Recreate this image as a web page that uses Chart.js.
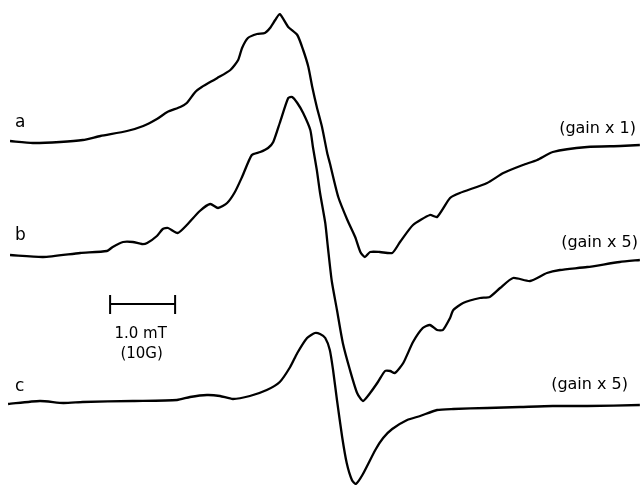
<!DOCTYPE html>
<html lang="en">
<head>
<meta charset="UTF-8">
<title>EPR spectra</title>
<script src="https://cdn.jsdelivr.net/npm/chart.js"></script>
<style>
    html, body { margin: 0; padding: 0; background: #fff; }
    #wrap { width: 640px; height: 485px; }
</style>
</head>
<body>
<div id="wrap"><canvas id="epr" width="640" height="485"></canvas></div>
<script>
    // field in gauss (G) from left edge, signal in arbitrary units relative to each baseline
    const fieldA = [0, 3.5, 7.7, 11.2, 13.9, 18.0, 20.5, 22.6, 24.2, 26.2, 27.2, 28.5, 29.5, 31.9, 33.9, 35.1, 35.7, 36.6, 38.0, 39.2, 40.0, 40.8, 41.5, 42.8, 44.2, 45.1, 45.9, 46.5, 47.2, 48.0, 48.8, 49.2, 50.5, 51.9, 53.1, 53.9, 54.6, 55.4, 56.9, 58.8, 60.0, 62.0, 64.6, 65.7, 67.7, 69.2, 73.4, 75.9, 78.9, 81.1, 83.5, 88.8, 93.9, 96.9];
    const signalA = [0, -2, -1, 1, 5, 10, 15, 22, 29, 34, 38, 49, 54, 63, 71, 81, 93, 103, 107, 108, 113, 121, 127, 114, 106, 91, 74, 54, 34, 14, -12, -22, -56, -79, -96, -111, -116, -111, -111, -112, -101, -84, -74, -76, -57, -52, -42, -32, -24, -19, -11, -6, -5, -4];

    const fieldB = [0, 5.1, 10.8, 14.9, 15.8, 17.4, 18.9, 20.3, 21.1, 22.6, 23.5, 24.3, 25.8, 27.2, 29.2, 30.8, 32.0, 33.4, 34.6, 35.7, 37.2, 38.5, 39.7, 40.5, 41.5, 42.8, 43.4, 44.2, 45.1, 46.2, 46.6, 47.2, 47.7, 48.5, 48.9, 49.5, 50.3, 51.2, 52.3, 53.4, 54.3, 55.4, 56.6, 57.7, 58.5, 59.2, 60.5, 62.0, 63.5, 64.6, 65.7, 66.6, 67.7, 68.2, 69.7, 72.3, 73.8, 75.4, 77.4, 80.0, 82.6, 84.6, 88.8, 93.8, 96.9];
    const signalB = [0, -2, 2, 4, 8, 13, 13, 11, 12, 19, 26, 27, 22, 30, 44, 51, 47, 52, 63, 78, 100, 103, 107, 113, 132, 157, 158, 152, 142, 125, 108, 85, 62, 32, 8, -26, -55, -88, -115, -138, -146, -138, -127, -116, -116, -118, -108, -87, -73, -70, -75, -75, -63, -55, -48, -43, -42, -33, -23, -26, -18, -15, -12, -7, -5];

    const fieldC = [-0.3, 4.6, 8.2, 11.2, 18.9, 25.7, 27.7, 30.3, 32.3, 34.3, 36.9, 39.5, 41.5, 43.1, 44.2, 45.7, 46.9, 47.7, 48.5, 49.2, 49.7, 50.3, 51.1, 51.8, 52.6, 53.2, 54.3, 56.2, 57.4, 58.8, 61.1, 63.1, 65.7, 68.2, 73.4, 78.5, 83.5, 88.8, 96.9];
    const signalC = [0, 3, 1, 2, 3, 4, 7, 9, 8, 5, 8, 14, 22, 37, 51, 66, 71, 70, 66, 54, 34, 4, -33, -59, -76, -80, -70, -46, -34, -25, -16, -12, -6, -5, -4, -3, -2, -2, -1];

    // vertical offsets of the three traces
    const offsets = [344, 230, 81];
    const traceLabels = ['a', 'b', 'c'];
    const gainLabels = ['(gain x 1)', '(gain x 5)', '(gain x 5)'];

    function toPoints(xs, ys, off) {
        return xs.map((x, i) => ({ x: x, y: ys[i] + off }));
    }

    const fields = [fieldA, fieldB, fieldC];
    const signals = [signalA, signalB, signalC];

    const datasets = fields.map((f, i) => ({
        label: traceLabels[i],
        data: toPoints(f, signals[i], offsets[i]),
        showLine: true,
        borderColor: '#000',
        borderWidth: 2.3,
        pointRadius: 0,
        tension: 0.2,
        fill: false
    }));

    // texts and the 1.0 mT scale bar
    const annotations = {
        id: 'annotations',
        afterDatasetsDraw(chart) {
            const c = chart.ctx;
            const xs = chart.scales.x;
            const ys = chart.scales.y;
            c.save();
            c.fillStyle = '#000';
            c.strokeStyle = '#000';
            c.font = '17px "DejaVu Sans"';
            c.textBaseline = 'middle';

            // trace letters
            const letterY = [123, 236, 387];
            traceLabels.forEach((t, i) => {
                c.textAlign = 'left';
                c.fillText(t, 15, letterY[i]);
            });

            // gain labels
            const gainPos = [[636, 129], [638, 243], [628, 385]];
            c.font = '16px "DejaVu Sans"';
            gainLabels.forEach((t, i) => {
                c.textAlign = 'right';
                c.fillText(t, gainPos[i][0], gainPos[i][1]);
            });

            // scale bar: 10 G = 1.0 mT
            const x0 = xs.getPixelForValue(15.4);
            const x1 = xs.getPixelForValue(25.4);
            const yb = ys.getPixelForValue(181);
            c.lineWidth = 2;
            c.beginPath();
            c.moveTo(x0, yb); c.lineTo(x1, yb);
            c.moveTo(x0, yb - 9); c.lineTo(x0, yb + 10);
            c.moveTo(x1, yb - 9); c.lineTo(x1, yb + 10);
            c.stroke();
            c.textAlign = 'center';
            c.font = '15px "DejaVu Sans"';
            c.fillText('1.0 mT', (x0 + x1) / 2 - 2, 334);
            c.fillText('(10G)', (x0 + x1) / 2 - 1, 354);
            c.restore();
        }
    };

    new Chart(document.getElementById('epr'), {
        type: 'scatter',
        data: { datasets: datasets },
        options: {
            responsive: false,
            animation: false,
            layout: { padding: 0 },
            plugins: { legend: { display: false }, tooltip: { enabled: false } },
            scales: {
                x: { type: 'linear', min: -1.54, max: 96.92, display: false },
                y: { type: 'linear', min: 0, max: 485, display: false }
            }
        },
        plugins: [annotations]
    });
</script>
</body>
</html>
